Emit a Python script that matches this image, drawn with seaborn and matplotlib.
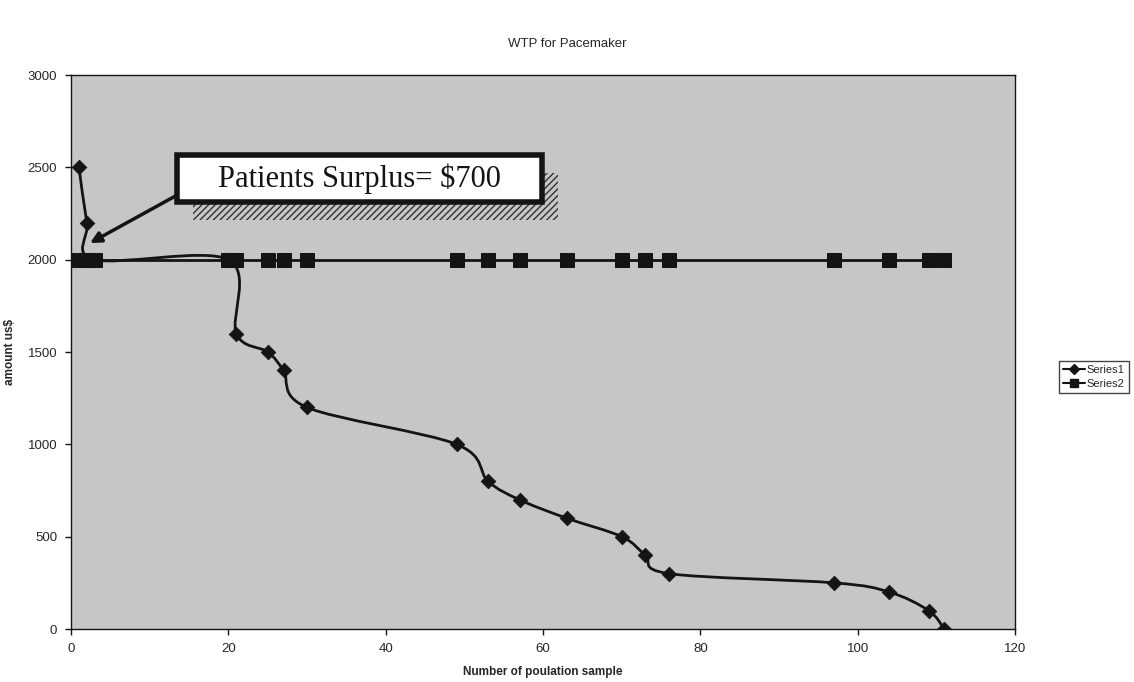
# WTP for Pacemaker - recreated with seaborn
import seaborn as sns
import matplotlib.pyplot as plt
import pandas as pd
from matplotlib.path import Path
from matplotlib.patches import PathPatch, Rectangle
from matplotlib.lines import Line2D

# data
sample = [1, 2, 3, 20, 21, 25, 27, 30, 49, 53, 57, 63, 70, 73, 76, 97, 104, 109, 111]
wtp = [2500, 2200, 2000, 2000, 1600, 1500, 1400, 1200, 1000, 800, 700, 600,
       500, 400, 300, 250, 200, 100, 0]
price = [2000, 2000, 2000, 2000, 2000, 2000, 2000, 2000, 2000, 2000, 2000,
         2000, 2000, 2000, 2000, 2000, 2000, 2000, 2000]
x_ticks = [0, 20, 40, 60, 80, 100, 120]
y_ticks = [0, 500, 1000, 1500, 2000, 2500, 3000]

df1 = pd.DataFrame({'sample': sample, 'amount': wtp})
df2 = pd.DataFrame({'sample': sample, 'amount': price})

sns.set_theme(style='white')
plt.rcParams['font.family'] = ['Liberation Sans', 'DejaVu Sans']

fig = plt.figure(figsize=(11.34, 6.82), dpi=100)
ax = fig.add_axes([0.0627, 0.0777, 0.8325, 0.8123])
ax.set_facecolor('#c6c6c6')

ink = '#141414'

# Series2: flat price line
sns.lineplot(data=df2, x='sample', y='amount', ax=ax, color=ink, linewidth=2,
             marker='s', markersize=10, markeredgecolor=ink, sort=False,
             legend=False, zorder=3)

# Series1: smoothed line (Excel style bezier through the points)
pts = list(zip(sample, wtp))
verts = [pts[0]]
codes = [Path.MOVETO]
n = len(pts)
for i in range(n - 1):
    p0 = pts[i - 1] if i > 0 else pts[i]
    p1 = pts[i]
    p2 = pts[i + 1]
    p3 = pts[i + 2] if i + 2 < n else pts[i + 1]
    c1 = (p1[0] + (p2[0] - p0[0]) / 6, p1[1] + (p2[1] - p0[1]) / 6)
    c2 = (p2[0] - (p3[0] - p1[0]) / 6, p2[1] - (p3[1] - p1[1]) / 6)
    verts += [c1, c2, p2]
    codes += [Path.CURVE4] * 3
ax.add_patch(PathPatch(Path(verts, codes), facecolor='none', edgecolor=ink,
                       linewidth=2, zorder=4))
sns.scatterplot(data=df1, x='sample', y='amount', ax=ax, color=ink, marker='D',
                s=55, edgecolor=ink, legend=False, zorder=5)

ax.set_xlim(0, 120)
ax.set_ylim(0, 3000)
ax.set_xticks(x_ticks)
ax.set_yticks(y_ticks)
ax.tick_params(axis='both', labelsize=9.5, direction='out', length=4, width=1,
               color=ink, pad=6, bottom=True, left=True)
for s in ax.spines.values():
    s.set_color(ink)
    s.set_linewidth(1)

ax.set_xlabel('Number of poulation sample', fontsize=8.5, fontweight='bold', labelpad=8)
ax.set_ylabel('amount us$', fontsize=8.5, fontweight='bold', labelpad=8)
fig.suptitle('WTP for Pacemaker', fontsize=9.5, y=0.945)

# callout box with hatched shadow
ax.add_patch(Rectangle((0.129, 0.738), 0.387, 0.085, transform=ax.transAxes,
                       facecolor='#c6c6c6', edgecolor='#333333', hatch='/////',
                       linewidth=0, zorder=6))
ax.add_patch(Rectangle((0.112, 0.771), 0.387, 0.085, transform=ax.transAxes,
                       facecolor='white', edgecolor=ink, linewidth=4, zorder=7))
ax.text(0.3055, 0.8135, 'Patients Surplus= $700', transform=ax.transAxes,
        ha='center', va='center', fontsize=22, family='Liberation Serif',
        color=ink, zorder=8)
ax.annotate('', xy=(2.4, 2090), xycoords='data', xytext=(0.112, 0.783),
            textcoords='axes fraction',
            arrowprops=dict(arrowstyle='-|>', color=ink, lw=2.5,
                            mutation_scale=16, shrinkA=0, shrinkB=0), zorder=6)

handles = [Line2D([], [], color=ink, marker='D', markersize=5, linewidth=1.5),
           Line2D([], [], color=ink, marker='s', markersize=6, linewidth=1.5)]
leg = ax.legend(handles, ['Series1', 'Series2'], loc='center left',
                bbox_to_anchor=(1.046, 0.455), fontsize=8, frameon=True,
                fancybox=False, handlelength=2.0, borderpad=0.4,
                labelspacing=0.35, handletextpad=0.15, borderaxespad=0)
leg.get_frame().set_edgecolor(ink)
leg.get_frame().set_linewidth(1)

plt.savefig('out.png', dpi=100)
